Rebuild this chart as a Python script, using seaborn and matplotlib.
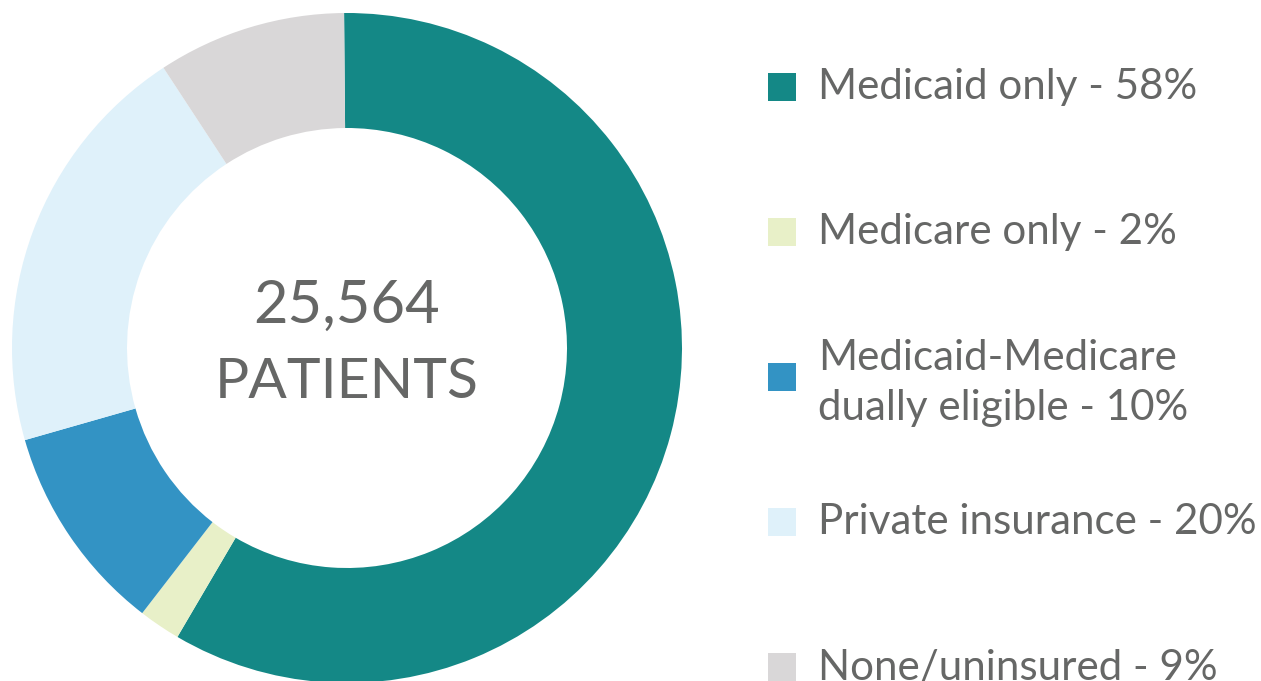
import matplotlib.pyplot as plt
import seaborn as sns
from matplotlib.patches import Rectangle

# data
categories = ["Medicaid only", "Medicare only", "Medicaid-Medicare\ndually eligible",
              "Private insurance", "None/uninsured"]
shares = [58, 2, 10, 20, 9]
colors = ["#148886", "#e8f0c8", "#3393c4", "#dff1fa", "#d9d7d8"]
total_patients = "25,564"

sns.set_theme(style="white")
plt.rcParams['font.family'] = ['Lato', 'DejaVu Sans']
text_color = "#666766"

W, H = 1261, 681
fig = plt.figure(figsize=(W / 100, H / 100), dpi=100)

# donut: centre (347, 348) px, outer radius 335 px
cx, cy, r = 347, 348, 335
ax = fig.add_axes([(cx - r) / W, (H - cy - r) / H, 2 * r / W, 2 * r / H])
ax.pie(shares, colors=colors, startangle=90.5, counterclock=False,
       radius=1, wedgeprops=dict(width=1 - 220 / 335, edgecolor='none'))
ax.set_xlim(-1, 1)
ax.set_ylim(-1, 1)
ax.set_aspect('equal')
ax.axis('off')

ax.text(0, (cy - 306) / r, total_patients, ha='center', va='center',
        fontsize=43, color=text_color)
ax.text(0, (cy - 382) / r, "PATIENTS", ha='center', va='center',
        fontsize=41, color=text_color)

# legend
for i, (cat, val, col) in enumerate(zip(categories, shares, colors)):
    yc = 87 + i * 145
    fig.patches.append(Rectangle((768 / W, (H - yc - 14) / H), 28 / W, 28 / H,
                                 transform=fig.transFigure, facecolor=col,
                                 edgecolor='none'))
    yt = yc + 6 if "\n" in cat else yc
    fig.text(818 / W, (H - yt) / H, f"{cat} - {val}%", ha='left', va='center',
             fontsize=30.3, color=text_color, linespacing=1.38)

fig.savefig("out.png", dpi=100)
